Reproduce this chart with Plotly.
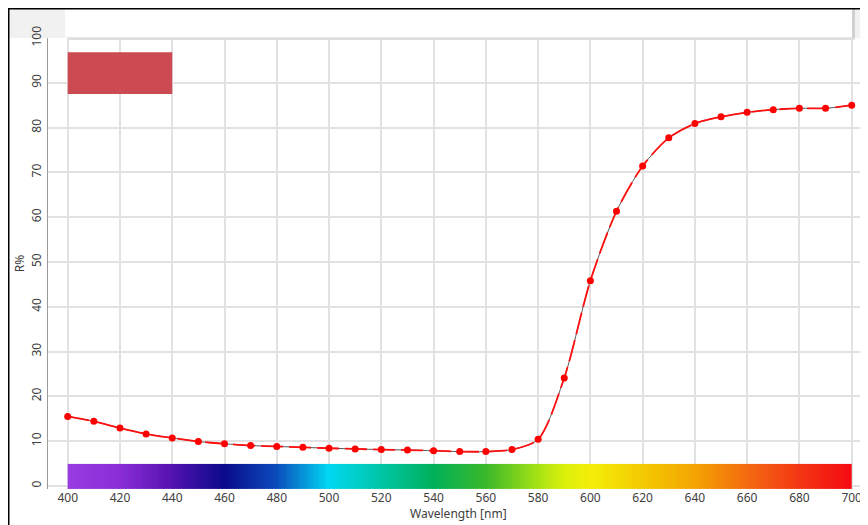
import numpy as np
import plotly.graph_objects as go

# ---- data ----
wavelength_nm = [400, 410, 420, 430, 440, 450, 460, 470, 480, 490, 500,
                 510, 520, 530, 540, 550, 560, 570, 580, 590, 600,
                 610, 620, 630, 640, 650, 660, 670, 680, 690, 700]
reflectance_pct = [15.5, 14.4, 12.9, 11.6, 10.7, 9.9, 9.4, 9.0, 8.8, 8.6, 8.4,
                   8.25, 8.1, 8.0, 7.85, 7.65, 7.65, 8.1, 10.4, 24.1, 45.8,
                   61.3, 71.4, 77.7, 80.9, 82.4, 83.4, 84.0, 84.3, 84.3, 85.0]

x_tick_vals = [400, 420, 440, 460, 480, 500, 520, 540, 560, 580, 600,
               620, 640, 660, 680, 700]
y_tick_vals = [0, 10, 20, 30, 40, 50, 60, 70, 80, 90, 100]

spectrum_nm = [400, 420, 440, 460, 480, 500, 520, 540, 560, 580, 590,
               600, 620, 640, 660, 680, 700]
spectrum_colors = ["#9A3BE2", "#8A2DD6", "#5412B0", "#0A0A8A", "#0A4CBC",
                   "#00D8F2", "#00C6A6", "#00B05A", "#3AB82A", "#A6E214",
                   "#DCF00A", "#F4EE08", "#F4CA02", "#F4A402", "#F46A10",
                   "#F43614", "#F40A12"]

swatch_color = "#CC4A52"
x_title = "Wavelength [nm]"
y_title = "R%"

# ---- geometry (page has an 8px body margin; helpers take screen pixels) ----
OFF = 8
W, H = 860, 517
ML, MR, MT, MB = 40, 0, 30, 35.5
PW = W - ML - MR
PH = H - MT - MB


def px(xs):
    return (xs - OFF - ML) / PW


def py(ys):
    return (H - MB - (ys - OFF)) / PH


fig = go.Figure()

# spectrum bar (heatmap with edges)
edges = np.arange(spectrum_nm[0], spectrum_nm[-1] + 1, 1.0)
mids = (edges[:-1] + edges[1:]) / 2
lo, hi = spectrum_nm[0], spectrum_nm[-1]
cscale = [[(w - lo) / (hi - lo), c] for w, c in zip(spectrum_nm, spectrum_colors)]
fig.add_trace(go.Heatmap(
    x=edges, y=[-0.7, 4.9], z=[mids], colorscale=cscale,
    zmin=lo, zmax=hi, showscale=False, hoverinfo="skip"))

# curve: thin dark underline + red dashes + markers
fig.add_trace(go.Scatter(
    x=wavelength_nm, y=reflectance_pct, mode="lines",
    line=dict(color="#555555", width=1.0, shape="spline", smoothing=0.8),
    hoverinfo="skip", showlegend=False))
fig.add_trace(go.Scatter(
    x=wavelength_nm, y=reflectance_pct, mode="lines",
    line=dict(color="#ff1010", width=1.8, shape="spline", smoothing=0.8,
              dash="22px,6px"),
    hoverinfo="skip", showlegend=False))
fig.add_trace(go.Scatter(
    x=wavelength_nm, y=reflectance_pct, mode="markers",
    marker=dict(color="#ff0000", size=7),
    showlegend=False))

shapes = []
# x axis baseline at y=0 (below traces)
shapes.append(dict(type="line", xref="paper", yref="y", x0=0, x1=1, y0=0, y1=0,
                   line=dict(color="#9a9a9a", width=1), layer="below"))
# colour swatch
shapes.append(dict(type="rect", xref="x", yref="y", x0=400, x1=440, y0=87.5, y1=96.8,
                   fillcolor=swatch_color, line=dict(width=0), layer="above"))
# top toolbar
shapes.append(dict(type="rect", xref="paper", yref="paper", x0=px(9), x1=px(870),
                   y0=py(38), y1=py(6), fillcolor="#f1f1f1", line=dict(width=0), layer="below"))
shapes.append(dict(type="rect", xref="paper", yref="paper", x0=px(67), x1=px(855),
                   y0=py(40), y1=py(6), fillcolor="rgba(0,0,0,0.13)", line=dict(width=0), layer="below"))
shapes.append(dict(type="rect", xref="paper", yref="paper", x0=px(65), x1=px(852),
                   y0=py(37.5), y1=py(6), fillcolor="#ffffff", line=dict(width=0), layer="below"))
# black frame (left + top)
shapes.append(dict(type="rect", xref="paper", yref="paper", x0=px(6), x1=px(9.5),
                   y0=py(530), y1=py(6), fillcolor="#000000", line=dict(width=0), layer="above"))
shapes.append(dict(type="rect", xref="paper", yref="paper", x0=px(6), x1=px(870),
                   y0=py(9.5), y1=py(6), fillcolor="#000000", line=dict(width=0), layer="above"))

font = dict(family="Noto Sans, Open Sans, sans-serif", size=12, color="#404040")

annotations = [dict(text=x_title, xref="paper", yref="paper", x=px(458), y=py(514),
                    xanchor="center", yanchor="middle", showarrow=False, font=font)]

fig.update_layout(
    width=W, height=H,
    margin=dict(l=ML, r=MR, t=MT, b=MB, pad=0),
    paper_bgcolor="#ffffff", plot_bgcolor="#ffffff",
    font=font, showlegend=False, shapes=shapes, annotations=annotations,
    xaxis=dict(range=[392.46, 706.24], tickvals=x_tick_vals,
               showgrid=True, gridcolor="#e2e2e2", gridwidth=1.5,
               zeroline=False, showline=False, ticklabeloverflow="allow",
               ticks="", tickfont=font),
    yaxis=dict(range=[-0.7, 100], tickvals=y_tick_vals, tickangle=-90,
               showgrid=True, gridcolor="#e2e2e2", gridwidth=1.5,
               zeroline=False, showline=True, linecolor="#9a9a9a", linewidth=1,
               ticks="outside", ticklen=1, tickcolor="rgba(0,0,0,0)", tickfont=font,
               title=dict(text=y_title, font=font, standoff=1)),
)

fig.write_html("out.html")
